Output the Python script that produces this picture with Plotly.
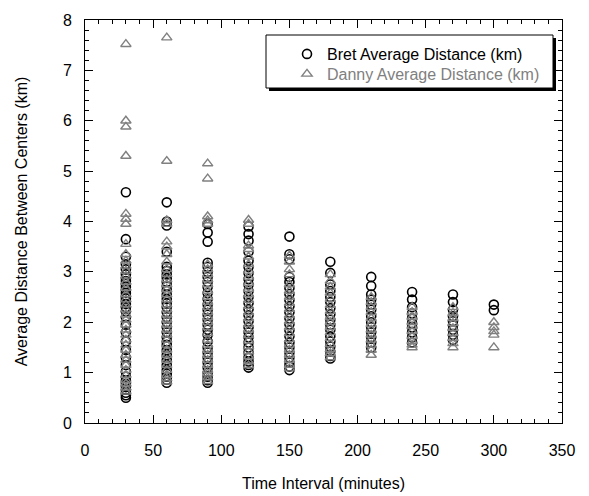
import plotly.graph_objects as go

# ---- data ----
intervals = [30, 60, 90, 120, 150, 180, 210, 240, 270, 300]

bret = {
    30: [4.58, 3.65, 3.30, 3.15, 3.05, 2.95, 2.88, 2.82, 2.76, 2.70, 2.64, 2.58, 2.52, 2.47, 2.42, 2.36,
         2.30, 2.22, 2.10, 1.95, 1.80, 1.62, 1.45, 1.30, 1.15, 1.02, 0.92, 0.84, 0.78, 0.72, 0.66, 0.60, 0.55, 0.50],
    60: [4.38, 4.00, 3.92, 3.40, 3.10, 3.02, 2.95, 2.88, 2.80, 2.72, 2.64, 2.55, 2.46, 2.38, 2.30, 2.20,
         2.10, 2.00, 1.90, 1.80, 1.70, 1.62, 1.55, 1.45, 1.35, 1.25, 1.15, 1.05, 0.98, 0.92, 0.86, 0.80],
    90: [3.95, 3.78, 3.60, 3.18, 3.10, 3.00, 2.90, 2.80, 2.70, 2.58, 2.46, 2.35, 2.25, 2.15, 2.05, 1.95,
         1.85, 1.75, 1.62, 1.50, 1.40, 1.30, 1.20, 1.10, 1.00, 0.92, 0.85, 0.80],
    120: [3.90, 3.75, 3.62, 3.40, 3.22, 3.10, 2.98, 2.86, 2.75, 2.62, 2.50, 2.38, 2.26, 2.14, 2.02, 1.90,
          1.80, 1.70, 1.60, 1.50, 1.40, 1.30, 1.22, 1.15, 1.10],
    150: [3.70, 3.35, 3.25, 2.90, 2.80, 2.68, 2.56, 2.44, 2.32, 2.20, 2.08, 1.96, 1.84, 1.72, 1.60, 1.50,
          1.40, 1.30, 1.20, 1.12, 1.05],
    180: [3.20, 2.98, 2.75, 2.62, 2.50, 2.40, 2.28, 2.16, 2.05, 1.95, 1.85, 1.72, 1.62, 1.52, 1.42, 1.33, 1.28],
    210: [2.90, 2.72, 2.55, 2.45, 2.35, 2.25, 2.12, 2.00, 1.90, 1.80, 1.70, 1.60, 1.50],
    240: [2.60, 2.45, 2.30, 2.18, 2.08, 1.98, 1.90, 1.80, 1.70, 1.60],
    270: [2.55, 2.40, 2.25, 2.12, 2.02, 1.94, 1.85, 1.75, 1.65],
    300: [2.35, 2.24],
}

danny = {
    30: [7.52, 6.00, 5.88, 5.30, 4.15, 4.05, 3.95, 3.55, 3.35, 3.22, 3.12, 3.02, 2.92, 2.80, 2.68, 2.55,
         2.45, 2.35, 2.25, 2.15, 2.05, 1.95, 1.85, 1.75, 1.65, 1.55, 1.45, 1.35, 1.25, 1.15, 1.05, 0.95,
         0.85, 0.78, 0.70, 0.62],
    60: [7.65, 5.20, 4.02, 3.95, 3.60, 3.50, 3.35, 3.20, 3.05, 2.95, 2.85, 2.75, 2.65, 2.55, 2.45, 2.35,
         2.25, 2.15, 2.05, 1.95, 1.85, 1.75, 1.65, 1.55, 1.45, 1.35, 1.25, 1.15, 1.05, 0.95, 0.88, 0.82],
    90: [5.15, 4.85, 4.10, 4.02, 3.95, 3.15, 3.05, 2.95, 2.85, 2.75, 2.62, 2.50, 2.40, 2.30, 2.20, 2.10,
         2.00, 1.90, 1.78, 1.65, 1.55, 1.45, 1.35, 1.25, 1.15, 1.05, 0.98, 0.90, 0.83],
    120: [4.03, 3.95, 3.52, 3.45, 3.30, 3.15, 3.02, 2.90, 2.78, 2.66, 2.55, 2.44, 2.32, 2.20, 2.08, 1.96,
          1.85, 1.74, 1.63, 1.52, 1.42, 1.32, 1.22, 1.14],
    150: [3.32, 3.20, 3.05, 2.95, 2.75, 2.62, 2.50, 2.38, 2.26, 2.14, 2.02, 1.90, 1.78, 1.66, 1.55, 1.45,
          1.35, 1.25, 1.15, 1.08],
    180: [2.95, 2.82, 2.70, 2.58, 2.46, 2.34, 2.22, 2.10, 2.00, 1.90, 1.80, 1.68, 1.56, 1.46, 1.38, 1.30],
    210: [2.50, 2.40, 2.30, 2.20, 2.08, 1.96, 1.85, 1.75, 1.65, 1.55, 1.45, 1.35],
    240: [2.30, 2.20, 2.10, 2.00, 1.92, 1.82, 1.72, 1.62, 1.55, 1.50],
    270: [2.30, 2.18, 2.08, 1.98, 1.88, 1.78, 1.68, 1.58, 1.50],
    300: [2.00, 1.90, 1.82, 1.75, 1.50],
}

x_ticks = [0, 50, 100, 150, 200, 250, 300, 350]
y_ticks = [0, 1, 2, 3, 4, 5, 6, 7, 8]


def flatten(d):
    xs, ys = [], []
    for t in intervals:
        for v in d[t]:
            xs.append(t)
            ys.append(v)
    return xs, ys


bx, by = flatten(bret)
dx, dy = flatten(danny)

FONT = "Liberation Sans, Arial, sans-serif"
GRAY = "#808080"

fig = go.Figure()
fig.add_trace(go.Scatter(
    x=bx, y=by, mode="markers", name="Bret Average Distance (km)", legend="legend",
    marker=dict(symbol="circle-open", size=9, color="black", line=dict(width=1.6, color="black")),
))
fig.add_trace(go.Scatter(
    x=dx, y=dy, mode="markers", name="Danny Average Distance (km)", legend="legend2",
    marker=dict(symbol="triangle-up-open", size=9, color=GRAY, line=dict(width=1.4, color=GRAY)),
))

axis_common = dict(
    showline=True, linecolor="black", linewidth=1, mirror="allticks",
    ticks="inside", ticklen=8, tickwidth=1, tickcolor="black",
    showgrid=False, zeroline=False,
    tickfont=dict(family=FONT, size=16, color="black"),
)

fig.update_xaxes(
    range=[0, 350], tickvals=x_ticks,
    minor=dict(ticks="inside", ticklen=4, tickwidth=1, tickcolor="black", dtick=10, showgrid=False),
    title=dict(text="Time Interval (minutes)", font=dict(family=FONT, size=16, color="black"), standoff=19),
    ticklabelstandoff=13,
    **axis_common,
)
fig.update_yaxes(
    range=[0, 8], tickvals=y_ticks,
    minor=dict(ticks="inside", ticklen=4, tickwidth=1, tickcolor="black", dtick=0.2, showgrid=False),
    title=dict(text="Average Distance Between Centers (km)", font=dict(family=FONT, size=16, color="black"),
               standoff=31),
    ticklabelstandoff=9,
    **axis_common,
)

# window-pixel geometry of the plot area (page body has an 8px margin)
OFF = 8
PL, PR, PT, PB = 85, 562, 20, 423


def px(xp):
    return (xp - PL) / (PR - PL)


def py(yp):
    return (PB - yp) / (PB - PT)


# legend frame with drop shadow
L, R, T, B = 266, 553, 35, 88
fig.add_shape(type="rect", xref="paper", yref="paper",
              x0=px(L + 3), x1=px(R + 3), y0=py(B + 3), y1=py(T + 3),
              fillcolor="black", line=dict(width=0), layer="above")
fig.add_shape(type="rect", xref="paper", yref="paper",
              x0=px(L), x1=px(R), y0=py(B), y1=py(T),
              fillcolor="white", line=dict(width=1, color="black"), layer="above")

leg_common = dict(xanchor="left", yanchor="top", bgcolor="rgba(0,0,0,0)", borderwidth=0, itemwidth=30)

fig.update_layout(
    width=589 - OFF, height=496 - OFF,
    margin=dict(l=PL - OFF, r=589 - PR, t=PT - OFF, b=496 - PB, autoexpand=False),
    paper_bgcolor="white", plot_bgcolor="white",
    font=dict(family=FONT, size=16, color="black"),
    showlegend=True,
    legend=dict(x=px(287), y=py(37), font=dict(family=FONT, size=16, color="black"), **leg_common),
    legend2=dict(x=px(287), y=py(57), font=dict(family=FONT, size=16, color=GRAY), **leg_common),
)

fig.write_html("out.html")
